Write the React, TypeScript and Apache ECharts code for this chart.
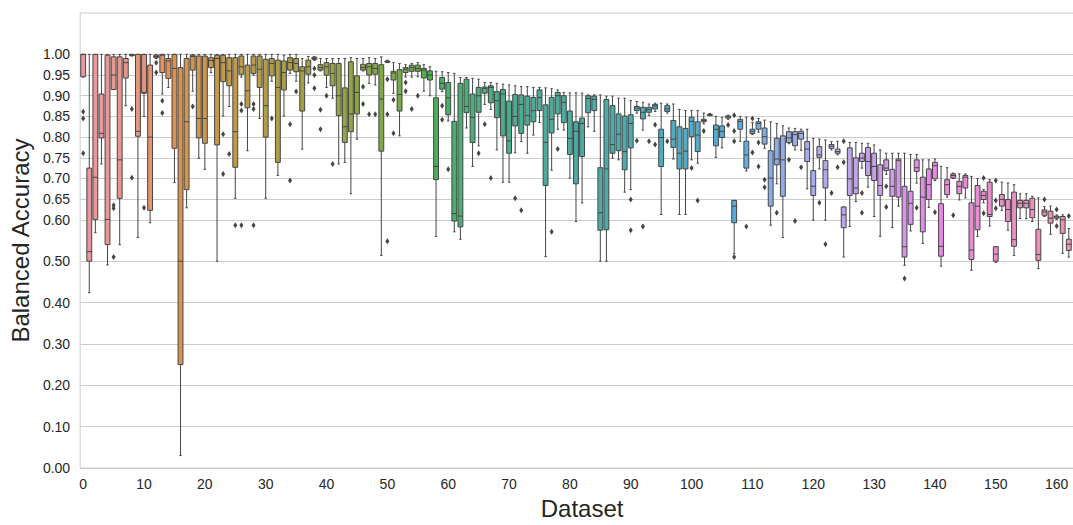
import React, { useEffect, useRef } from "react";
import * as echarts from "echarts";

// ---------- data ----------
const datasetLabels: string[] = Array.from({ length: 165 }, (_, i) => String(i));

// [min (lower whisker), Q1, median, Q3, max (upper whisker)] per dataset
const boxStats: number[][] = [
  [0.945, 0.946, 1.0, 1.0, 1.0],
  [0.424, 0.5, 0.523, 0.725, 1.0],
  [0.569, 0.601, 0.703, 1.0, 1.0],
  [0.735, 0.798, 0.809, 0.904, 1.0],
  [0.491, 0.54, 0.601, 0.998, 1.0],
  [0.915, 0.915, 0.95, 0.994, 1.0],
  [0.54, 0.652, 0.745, 0.994, 1.0],
  [0.876, 0.943, 0.98, 0.99, 1.0],
  [0.996, 0.997, 0.999, 1.0, 1.0],
  [0.557, 0.802, 0.814, 1.0, 1.0],
  [0.85, 0.906, 0.908, 1.0, 1.0],
  [0.593, 0.623, 0.8, 0.974, 1.0],
  [0.99, 0.992, 0.995, 0.998, 1.0],
  [0.904, 0.956, 0.998, 1.0, 1.0],
  [0.92, 0.942, 0.984, 0.99, 1.0],
  [0.69, 0.773, 0.966, 1.0, 1.0],
  [0.03, 0.25, 0.5, 0.968, 1.0],
  [0.629, 0.673, 0.837, 0.99, 1.0],
  [0.911, 0.962, 0.995, 0.998, 1.0],
  [0.749, 0.798, 0.845, 0.996, 1.0],
  [0.722, 0.785, 0.845, 0.996, 1.0],
  [0.956, 0.968, 0.985, 0.992, 1.0],
  [0.5, 0.781, 0.99, 0.998, 1.0],
  [0.851, 0.934, 0.98, 0.998, 1.0],
  [0.874, 0.924, 0.96, 0.992, 1.0],
  [0.652, 0.727, 0.813, 0.992, 1.0],
  [0.945, 0.952, 0.97, 0.996, 1.0],
  [0.767, 0.871, 0.912, 0.974, 1.0],
  [0.95, 0.954, 0.974, 0.996, 1.0],
  [0.845, 0.92, 0.964, 0.996, 1.0],
  [0.652, 0.8, 0.876, 0.988, 1.0],
  [0.935, 0.948, 0.978, 0.99, 1.0],
  [0.707, 0.739, 0.92, 0.986, 1.0],
  [0.851, 0.914, 0.956, 0.984, 0.998],
  [0.954, 0.962, 0.98, 0.992, 1.0],
  [0.935, 0.958, 0.978, 0.99, 1.0],
  [0.771, 0.863, 0.96, 0.97, 0.99],
  [0.931, 0.952, 0.97, 0.986, 0.995],
  [0.985, 0.988, 0.99, 0.993, 0.995],
  [0.96, 0.962, 0.968, 0.975, 0.99],
  [0.92, 0.95, 0.97, 0.98, 0.99],
  [0.894, 0.924, 0.954, 0.978, 0.99],
  [0.735, 0.852, 0.9, 0.978, 0.99],
  [0.739, 0.787, 0.825, 0.919, 0.99],
  [0.663, 0.813, 0.856, 0.982, 0.992],
  [0.795, 0.856, 0.908, 0.948, 0.99],
  [0.96, 0.962, 0.968, 0.976, 0.99],
  [0.93, 0.95, 0.97, 0.978, 0.992],
  [0.926, 0.952, 0.966, 0.978, 0.99],
  [0.514, 0.766, 0.892, 0.975, 0.994],
  [0.98, 0.981, 0.982, 0.984, 0.986],
  [0.906, 0.938, 0.955, 0.959, 0.98],
  [0.803, 0.863, 0.903, 0.963, 0.978],
  [0.945, 0.956, 0.964, 0.968, 0.975],
  [0.945, 0.959, 0.968, 0.974, 0.978],
  [0.946, 0.959, 0.966, 0.974, 0.98],
  [0.911, 0.943, 0.962, 0.966, 0.975],
  [0.9, 0.938, 0.95, 0.96, 0.97],
  [0.56, 0.697, 0.729, 0.895, 0.959],
  [0.91, 0.916, 0.93, 0.944, 0.958],
  [0.839, 0.854, 0.895, 0.932, 0.956],
  [0.571, 0.597, 0.615, 0.838, 0.954],
  [0.553, 0.583, 0.609, 0.93, 0.944],
  [0.822, 0.859, 0.874, 0.94, 0.944],
  [0.729, 0.787, 0.848, 0.904, 0.942],
  [0.779, 0.86, 0.9, 0.92, 0.94],
  [0.879, 0.906, 0.918, 0.921, 0.932],
  [0.867, 0.883, 0.92, 0.924, 0.932],
  [0.769, 0.847, 0.888, 0.91, 0.93],
  [0.691, 0.803, 0.904, 0.915, 0.928],
  [0.691, 0.761, 0.791, 0.887, 0.926],
  [0.762, 0.827, 0.85, 0.903, 0.924],
  [0.789, 0.809, 0.879, 0.902, 0.922],
  [0.761, 0.829, 0.852, 0.899, 0.922],
  [0.805, 0.837, 0.864, 0.896, 0.92],
  [0.835, 0.864, 0.896, 0.914, 0.92],
  [0.511, 0.683, 0.787, 0.878, 0.919],
  [0.72, 0.81, 0.843, 0.896, 0.917],
  [0.819, 0.856, 0.9, 0.908, 0.914],
  [0.817, 0.835, 0.884, 0.9, 0.908],
  [0.701, 0.758, 0.797, 0.863, 0.907],
  [0.596, 0.687, 0.814, 0.837, 0.907],
  [0.641, 0.753, 0.833, 0.846, 0.906],
  [0.825, 0.859, 0.893, 0.9, 0.902],
  [0.814, 0.864, 0.891, 0.899, 0.902],
  [0.5, 0.575, 0.617, 0.726, 0.902],
  [0.5, 0.576, 0.723, 0.891, 0.899],
  [0.749, 0.761, 0.782, 0.876, 0.899],
  [0.745, 0.767, 0.807, 0.856, 0.894],
  [0.667, 0.721, 0.765, 0.851, 0.894],
  [0.673, 0.774, 0.833, 0.854, 0.888],
  [0.858, 0.864, 0.87, 0.874, 0.886],
  [0.817, 0.844, 0.86, 0.872, 0.884],
  [0.852, 0.86, 0.867, 0.872, 0.88],
  [0.862, 0.868, 0.875, 0.879, 0.882],
  [0.613, 0.729, 0.799, 0.819, 0.882],
  [0.858, 0.862, 0.868, 0.876, 0.88],
  [0.747, 0.775, 0.795, 0.84, 0.88],
  [0.613, 0.723, 0.761, 0.825, 0.867],
  [0.613, 0.723, 0.766, 0.821, 0.864],
  [0.745, 0.801, 0.838, 0.848, 0.864],
  [0.737, 0.765, 0.805, 0.837, 0.864],
  [0.832, 0.837, 0.84, 0.843, 0.858],
  [0.852, 0.852, 0.854, 0.855, 0.857],
  [0.751, 0.779, 0.819, 0.829, 0.85],
  [0.774, 0.799, 0.814, 0.827, 0.848],
  [0.843, 0.846, 0.849, 0.851, 0.853],
  [0.518, 0.593, 0.633, 0.647, 0.647],
  [0.79, 0.819, 0.838, 0.843, 0.85],
  [0.718, 0.725, 0.757, 0.79, 0.848],
  [0.806, 0.809, 0.814, 0.819, 0.835],
  [0.812, 0.819, 0.833, 0.837, 0.845],
  [0.773, 0.783, 0.801, 0.822, 0.841],
  [0.587, 0.633, 0.701, 0.767, 0.837],
  [0.687, 0.733, 0.747, 0.797, 0.833],
  [0.557, 0.657, 0.745, 0.803, 0.827],
  [0.784, 0.787, 0.798, 0.813, 0.822],
  [0.769, 0.779, 0.806, 0.813, 0.821],
  [0.768, 0.795, 0.809, 0.814, 0.819],
  [0.675, 0.741, 0.771, 0.789, 0.819],
  [0.599, 0.659, 0.681, 0.719, 0.797],
  [0.723, 0.751, 0.757, 0.777, 0.795],
  [0.599, 0.677, 0.721, 0.743, 0.793],
  [0.769, 0.773, 0.778, 0.782, 0.789],
  [0.757, 0.761, 0.765, 0.771, 0.79],
  [0.51, 0.581, 0.612, 0.631, 0.631],
  [0.584, 0.659, 0.699, 0.774, 0.787],
  [0.644, 0.663, 0.677, 0.75, 0.787],
  [0.725, 0.741, 0.749, 0.761, 0.785],
  [0.679, 0.707, 0.741, 0.775, 0.785],
  [0.608, 0.695, 0.729, 0.761, 0.781],
  [0.56, 0.659, 0.683, 0.733, 0.769],
  [0.71, 0.719, 0.725, 0.745, 0.761],
  [0.581, 0.657, 0.681, 0.722, 0.761],
  [0.633, 0.655, 0.743, 0.747, 0.761],
  [0.49, 0.51, 0.535, 0.681, 0.761],
  [0.573, 0.589, 0.64, 0.669, 0.758],
  [0.689, 0.717, 0.726, 0.745, 0.758],
  [0.543, 0.571, 0.655, 0.703, 0.745],
  [0.63, 0.649, 0.685, 0.723, 0.745],
  [0.695, 0.699, 0.731, 0.739, 0.747],
  [0.488, 0.512, 0.536, 0.639, 0.729],
  [0.655, 0.661, 0.685, 0.697, 0.726],
  [0.7, 0.701, 0.707, 0.711, 0.713],
  [0.648, 0.663, 0.681, 0.693, 0.711],
  [0.653, 0.677, 0.703, 0.707, 0.711],
  [0.478, 0.504, 0.527, 0.641, 0.705],
  [0.56, 0.576, 0.633, 0.683, 0.7],
  [0.641, 0.649, 0.659, 0.669, 0.673],
  [0.585, 0.608, 0.613, 0.691, 0.697],
  [0.497, 0.5, 0.517, 0.535, 0.535],
  [0.623, 0.633, 0.649, 0.661, 0.691],
  [0.575, 0.596, 0.625, 0.649, 0.689],
  [0.514, 0.536, 0.552, 0.667, 0.685],
  [0.603, 0.629, 0.64, 0.647, 0.663],
  [0.603, 0.629, 0.64, 0.647, 0.663],
  [0.596, 0.605, 0.625, 0.652, 0.657],
  [0.482, 0.502, 0.516, 0.577, 0.653],
  [0.608, 0.611, 0.619, 0.624, 0.632],
  [0.565, 0.592, 0.604, 0.621, 0.633],
  [0.601, 0.604, 0.607, 0.609, 0.612],
  [0.519, 0.567, 0.6, 0.608, 0.612],
  [0.51, 0.526, 0.541, 0.553, 0.579],
];

// [dataset index, value]
const outliers: number[][] = [
  [0, 0.861], [0, 0.845], [0, 0.761],
  [5, 0.635], [5, 0.628], [5, 0.51],
  [8, 0.868], [8, 0.702],
  [10, 0.629],
  [12, 0.98], [12, 0.956],
  [13, 0.888], [13, 0.858],
  [18, 0.874],
  [23, 0.807], [23, 0.711],
  [24, 0.759],
  [25, 0.587],
  [26, 0.88], [26, 0.864], [26, 0.587],
  [28, 0.88], [28, 0.868], [28, 0.587],
  [31, 0.845],
  [34, 0.831], [34, 0.695],
  [35, 0.91],
  [38, 0.966], [38, 0.95], [38, 0.918],
  [39, 0.866], [39, 0.819],
  [40, 0.9],
  [41, 0.735],
  [46, 0.922], [46, 0.88],
  [47, 0.855],
  [48, 0.855],
  [50, 0.94], [50, 0.855], [50, 0.548],
  [51, 0.89], [51, 0.809],
  [53, 0.932], [53, 0.911],
  [54, 0.868],
  [55, 0.9],
  [59, 0.876], [59, 0.842],
  [60, 0.722],
  [65, 0.761],
  [66, 0.831],
  [67, 0.701],
  [71, 0.652],
  [72, 0.623],
  [77, 0.571],
  [78, 0.771],
  [90, 0.649], [90, 0.575],
  [91, 0.791],
  [92, 0.584],
  [93, 0.79],
  [94, 0.83], [94, 0.782],
  [96, 0.79],
  [100, 0.725],
  [101, 0.647],
  [102, 0.815],
  [106, 0.829],
  [107, 0.853], [107, 0.815], [107, 0.79], [107, 0.51],
  [109, 0.584],
  [110, 0.845], [110, 0.763],
  [111, 0.787], [111, 0.729],
  [112, 0.697], [112, 0.679],
  [114, 0.617],
  [116, 0.745],
  [117, 0.597],
  [118, 0.727],
  [121, 0.641],
  [122, 0.541],
  [123, 0.665],
  [124, 0.727],
  [125, 0.79], [125, 0.739],
  [128, 0.665], [128, 0.617],
  [132, 0.681], [132, 0.631],
  [135, 0.458],
  [137, 0.629],
  [140, 0.618],
  [143, 0.611],
  [148, 0.701], [148, 0.616],
  [150, 0.695], [150, 0.647], [150, 0.628],
  [158, 0.649],
  [160, 0.625], [160, 0.585],
  [162, 0.609],
];

const yTicks: number[] = [0, 0.1, 0.2, 0.3, 0.4, 0.5, 0.6, 0.65, 0.7, 0.75, 0.8, 0.85, 0.9, 0.95, 1.0];

// ---------- seaborn-like husl palette ----------
const M = [
  [3.2406, -1.5372, -0.4986],
  [-0.9689, 1.8758, 0.0415],
  [0.0557, -0.204, 1.057],
];
const refU = 0.19784;
const refV = 0.46834;

function maxChroma(L: number, H: number): number {
  const hrad = (H / 180) * Math.PI;
  const sinH = Math.sin(hrad);
  const cosH = Math.cos(hrad);
  const sub1 = Math.pow(L + 16, 3) / 1560896;
  const sub2 = sub1 > 0.008856 ? sub1 : L / 903.3;
  let result = Infinity;
  for (const [m1, m2, m3] of M) {
    const top = (0.99915 * m1 + 1.05122 * m2 + 1.1446 * m3) * sub2;
    const rb = 0.8633 * m3 - 0.17266 * m2;
    const lb = 0.12949 * m3 - 0.38848 * m1;
    const bottom = (rb * sinH + lb * cosH) * sub2;
    for (const t of [0, 1]) {
      const C = (L * (top - 1.05122 * t)) / (bottom + 0.17266 * sinH * t);
      if (C > 0 && C < result) result = C;
    }
  }
  return result;
}
function fromLinear(c: number) {
  return c <= 0.0031308 ? 12.92 * c : 1.055 * Math.pow(c, 1 / 2.4) - 0.055;
}
function huslToRgb(H: number, S: number, L: number): number[] {
  const C = (maxChroma(L, H) / 100) * S;
  const hrad = (H / 180) * Math.PI;
  const U = Math.cos(hrad) * C;
  const V = Math.sin(hrad) * C;
  const t = (L + 16) / 116;
  const varY = Math.pow(t, 3) > 0.008856 ? Math.pow(t, 3) : (116 * t - 16) / 903.3;
  const varU = U / (13 * L) + refU;
  const varV = V / (13 * L) + refV;
  const Y = varY;
  const X = 0 - (9 * Y * varU) / ((varU - 4) * varV - varU * varV);
  const Z = (9 * Y - 15 * varV * Y - varV * X) / (3 * varV);
  return M.map((r) => Math.min(1, Math.max(0, fromLinear(r[0] * X + r[1] * Y + r[2] * Z))));
}
function rgbToHls(r: number, g: number, b: number): number[] {
  const maxc = Math.max(r, g, b), minc = Math.min(r, g, b);
  const l = (maxc + minc) / 2;
  if (maxc === minc) return [0, l, 0];
  const rng = maxc - minc;
  const s = l <= 0.5 ? rng / (maxc + minc) : rng / (2 - maxc - minc);
  const rc = (maxc - r) / rng, gc = (maxc - g) / rng, bc = (maxc - b) / rng;
  let h: number;
  if (r === maxc) h = bc - gc;
  else if (g === maxc) h = 2 + rc - bc;
  else h = 4 + gc - rc;
  h = ((h / 6) % 1 + 1) % 1;
  return [h, l, s];
}
function hv(m1: number, m2: number, h: number) {
  h = ((h % 1) + 1) % 1;
  if (h < 1 / 6) return m1 + (m2 - m1) * h * 6;
  if (h < 0.5) return m2;
  if (h < 2 / 3) return m1 + (m2 - m1) * (2 / 3 - h) * 6;
  return m1;
}
function hlsToRgb(h: number, l: number, s: number): number[] {
  if (s === 0) return [l, l, l];
  const m2 = l <= 0.5 ? l * (1 + s) : l + s - l * s;
  const m1 = 2 * l - m2;
  return [hv(m1, m2, h + 1 / 3), hv(m1, m2, h), hv(m1, m2, h - 1 / 3)];
}
function toHex(rgb: number[]) {
  return "#" + rgb.map((v) => Math.round(v * 255).toString(16).padStart(2, "0")).join("");
}
function buildPalette(n: number) {
  const cols: number[][] = [];
  for (let i = 0; i < n; i++) {
    let h = i / n + 0.01;
    h = h % 1;
    const rgb = huslToRgb(h * 359, 0.9 * 99, 0.7 * 99);
    const [hh, ll, ss] = rgbToHls(rgb[0], rgb[1], rgb[2]);
    cols.push(hlsToRgb(hh, ll, ss * 0.75));
  }
  const lum = Math.min(...cols.map((c) => rgbToHls(c[0], c[1], c[2])[1])) * 0.6;
  return { colors: cols.map(toHex), gray: toHex([lum, lum, lum]) };
}

const FONT = "'Liberation Sans', Arial, sans-serif";
const TEXT = "#262626";

export default function App() {
  const ref = useRef<HTMLDivElement>(null);
  useEffect(() => {
    if (!ref.current) return;
    const chart = echarts.init(ref.current, undefined, { renderer: "svg" });
    const { colors, gray } = buildPalette(datasetLabels.length);
    const boxData = boxStats.map((s, i) => [i, ...s]);

    const option: any = {
      animation: false,
      backgroundColor: "#ffffff",
      grid: {
        left: 79,
        top: 13,
        right: 6,
        bottom: 52,
        show: true,
        borderColor: "#cccccc",
        borderWidth: 1,
        backgroundColor: "transparent",
      },
      xAxis: {
        type: "category",
        data: datasetLabels,
        boundaryGap: true,
        name: "Dataset",
        nameLocation: "middle",
        nameGap: 28,
        nameTextStyle: { fontSize: 24, color: TEXT, fontFamily: FONT },
        axisLine: { show: false },
        axisTick: { show: false },
        splitLine: { show: false },
        axisLabel: {
          interval: 9,
          margin: 9,
          fontSize: 14,
          color: TEXT,
          fontFamily: FONT,
        },
      },
      yAxis: {
        type: "value",
        min: 0,
        max: 1.1,
        name: "Balanced Accuracy",
        nameLocation: "middle",
        nameGap: 44,
        nameTextStyle: { fontSize: 24, color: TEXT, fontFamily: FONT },
        axisLine: { show: false },
        axisTick: { show: false },
        splitLine: { show: false },
        axisLabel: {
          customValues: yTicks,
          formatter: (v: number) => v.toFixed(2),
          margin: 10,
          fontSize: 14,
          color: TEXT,
          fontFamily: FONT,
        },
      },
      series: [
        {
          type: "scatter",
          name: "grid",
          data: [],
          silent: true,
          z: 0,
          markLine: {
            z: 0,
            silent: true,
            symbol: ["none", "none"],
            label: { show: false },
            lineStyle: { color: "#cccccc", type: "solid", width: 1 },
            emphasis: { disabled: true },
            data: yTicks.map((v) => ({ yAxis: v })),
          },
        },
        {
          type: "custom",
          z: 2,
          clip: true,
          encode: { x: 0, y: [1, 2, 3, 4, 5] },
          data: boxData,
          renderItem: (params: any, api: any) => {
            const i = api.value(0);
            const lo = api.value(1), q1 = api.value(2), med = api.value(3), q3 = api.value(4), hi = api.value(5);
            const x = api.coord([i, med])[0];
            const bw = api.size([1, 0])[0] * 0.8;
            const yLo = api.coord([i, lo])[1];
            const yQ1 = api.coord([i, q1])[1];
            const yMed = api.coord([i, med])[1];
            const yQ3 = api.coord([i, q3])[1];
            const yHi = api.coord([i, hi])[1];
            const ls = { stroke: gray, lineWidth: 1, fill: "none" };
            return {
              type: "group",
              children: [
                { type: "line", shape: { x1: x, y1: yQ1, x2: x, y2: yLo }, style: ls },
                { type: "line", shape: { x1: x, y1: yQ3, x2: x, y2: yHi }, style: ls },
                { type: "line", shape: { x1: x - bw / 4, y1: yLo, x2: x + bw / 4, y2: yLo }, style: ls },
                { type: "line", shape: { x1: x - bw / 4, y1: yHi, x2: x + bw / 4, y2: yHi }, style: ls },
                {
                  type: "rect",
                  shape: { x: x - bw / 2, y: yQ3, width: bw, height: Math.max(yQ1 - yQ3, 0.5) },
                  style: { fill: colors[i], stroke: gray, lineWidth: 1 },
                },
                { type: "line", shape: { x1: x - bw / 2, y1: yMed, x2: x + bw / 2, y2: yMed }, style: ls },
              ],
            };
          },
        },
        {
          type: "scatter",
          z: 3,
          data: outliers,
          symbol: "diamond",
          symbolSize: [4, 6],
          itemStyle: { color: gray, opacity: 1 },
          silent: true,
        },
      ],
    };
    chart.setOption(option);
    return () => chart.dispose();
  }, []);

  return (
    <div
      style={{
        position: "fixed",
        left: 0,
        top: 0,
        width: 1073,
        height: 525,
        overflow: "hidden",
        background: "#ffffff",
      }}
    >
      <div ref={ref} style={{ width: 1090, height: 525 }} />
    </div>
  );
}
